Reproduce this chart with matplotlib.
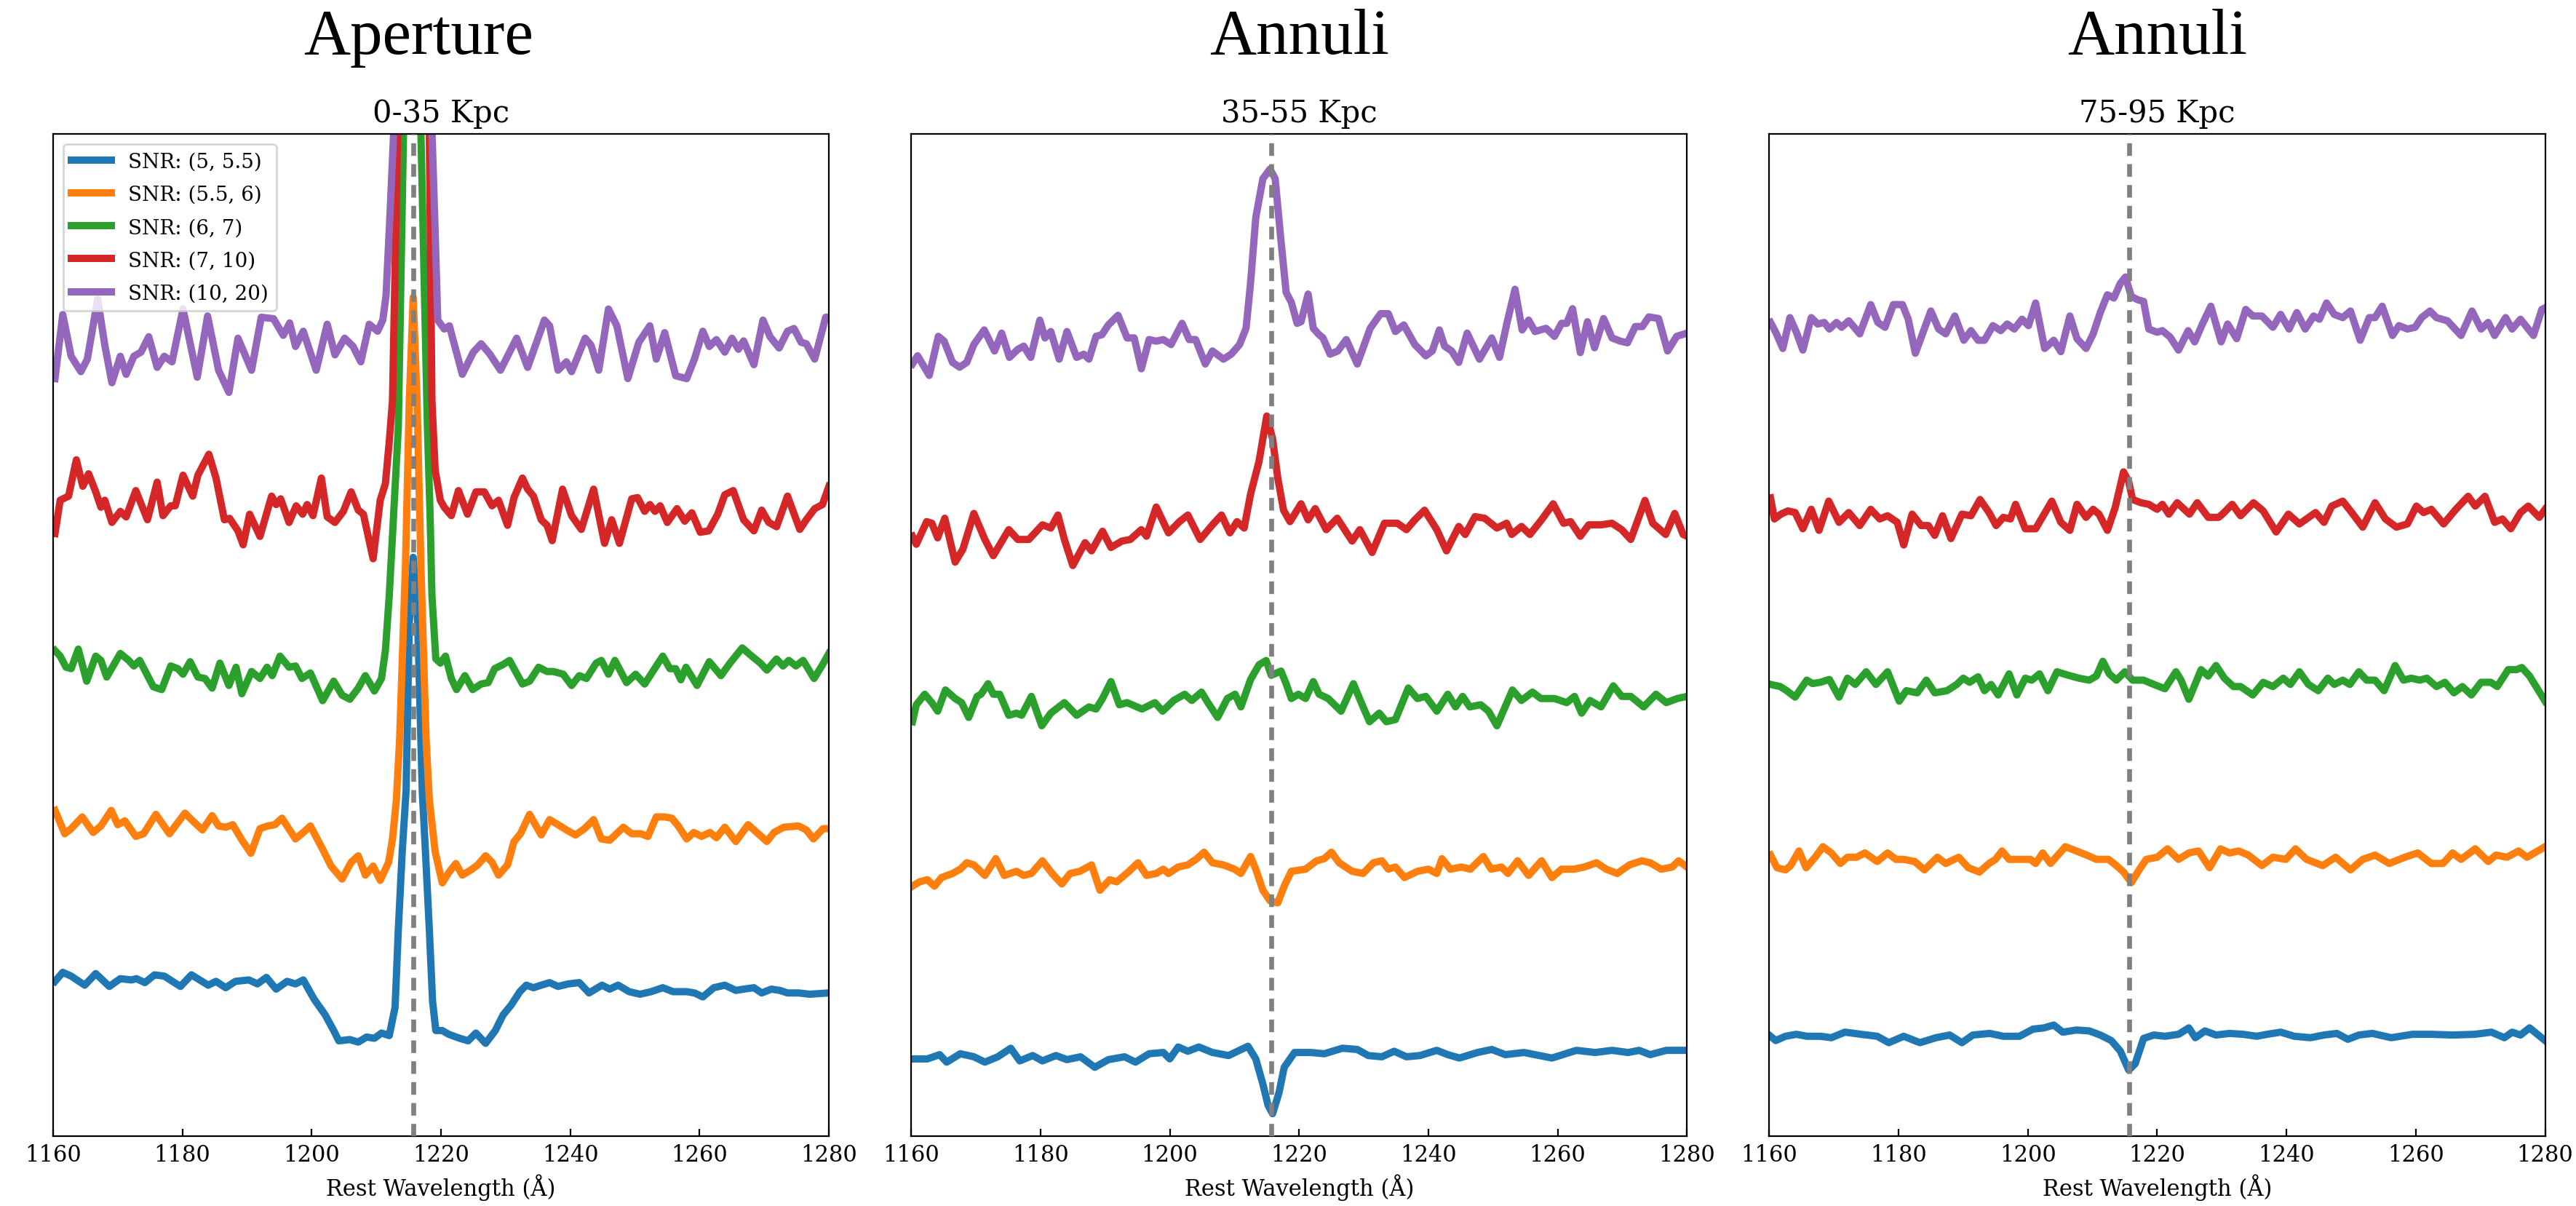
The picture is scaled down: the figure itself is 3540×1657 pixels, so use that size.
import numpy as np
import matplotlib.pyplot as plt

plt.rcParams['font.family'] = ['DejaVu Serif']

LYA = 1215.67  # Lyman-alpha rest wavelength

snr_labels = ["SNR: (5, 5.5)", "SNR: (5.5, 6)", "SNR: (6, 7)", "SNR: (7, 10)", "SNR: (10, 20)"]
panel_titles = ["0-35 Kpc", "35-55 Kpc", "75-95 Kpc"]
column_headers = ["Aperture", "Annuli", "Annuli"]
xticks = [1160, 1180, 1200, 1220, 1240, 1260, 1280]

# stacked spectra as (rest wavelength, normalised flux) pairs
# ---- aperture, 0-35 kpc ----
aper_5_55 = [(1160.3, 0.976), (1161.5, 1.033), (1162.8, 1.009), (1164.9, 0.952), (1166.6, 1.025), (1168.7, 0.944),
             (1170.4, 0.993), (1172.1, 0.985), (1172.9, 0.993), (1174.2, 0.968), (1175.7, 1.017), (1177.2, 1.009),
             (1179.7, 0.944), (1181.4, 1.017), (1184.0, 0.952), (1185.2, 0.976), (1186.7, 0.936), (1188.2, 0.976),
             (1190.3, 0.985), (1191.6, 0.960), (1193.0, 1.001), (1194.5, 0.927), (1196.2, 0.976), (1197.5, 0.960),
             (1198.7, 0.985), (1200.4, 0.862), (1202.1, 0.764), (1203.4, 0.666), (1204.2, 0.601), (1205.9, 0.609),
             (1207.2, 0.593), (1208.5, 0.625), (1209.7, 0.617), (1210.8, 0.650), (1212.0, 0.634), (1212.9, 0.813),
             (1213.4, 1.303), (1214.0, 1.79), (1214.6, 2.18), (1215.1, 3.24), (1215.7, 3.65), (1216.4, 3.24),
             (1217.1, 2.18), (1217.6, 1.79), (1218.2, 1.30), (1218.7, 0.85), (1219.2, 0.666), (1220.2, 0.666),
             (1221.2, 0.642), (1222.9, 0.617), (1224.2, 0.601), (1225.4, 0.650), (1226.9, 0.585), (1228.4, 0.666),
             (1229.6, 0.764), (1230.9, 0.829), (1232.2, 0.911), (1233.2, 0.952), (1234.3, 0.936), (1235.5, 0.952),
             (1236.8, 0.968), (1238.1, 0.944), (1239.7, 0.960), (1241.4, 0.968), (1242.9, 0.903), (1244.9, 0.952),
             (1246.1, 0.927), (1247.4, 0.952), (1249.1, 0.911), (1250.8, 0.895), (1252.5, 0.911), (1254.3, 0.936),
             (1255.9, 0.911), (1258.0, 0.911), (1259.2, 0.903), (1260.5, 0.878), (1262.2, 0.936), (1263.9, 0.952),
             (1265.6, 0.919), (1266.8, 0.927), (1268.4, 0.936), (1269.6, 0.903), (1271.1, 0.927), (1272.4, 0.919),
             (1273.6, 0.903), (1275.3, 0.903), (1277.0, 0.895), (1280.0, 0.903)]
aper_55_6 = [(1160.3, 1.054), (1161.8, 0.907), (1162.8, 0.939), (1164.5, 1.013), (1166.2, 0.915), (1167.4, 0.956),
             (1169.0, 1.054), (1170.0, 0.964), (1171.1, 0.988), (1172.8, 0.890), (1174.0, 0.907), (1175.9, 1.029),
             (1178.0, 0.907), (1180.4, 1.037), (1181.6, 0.988), (1183.1, 0.931), (1184.6, 1.021), (1185.6, 0.956),
             (1186.7, 0.948), (1187.8, 0.964), (1189.1, 0.874), (1190.6, 0.784), (1192.0, 0.939), (1193.2, 0.956),
             (1194.3, 0.964), (1195.4, 1.005), (1197.5, 0.874), (1198.7, 0.915), (1199.8, 0.956), (1201.7, 0.809),
             (1203.0, 0.703), (1204.7, 0.621), (1206.1, 0.727), (1207.2, 0.768), (1208.3, 0.646), (1209.5, 0.703),
             (1210.6, 0.613), (1211.9, 0.727), (1212.5, 0.874), (1213.1, 1.12), (1213.6, 1.5), (1214.5, 2.59),
             (1215.1, 3.64), (1215.7, 4.29), (1216.3, 3.64), (1216.9, 2.59), (1217.7, 1.5), (1218.2, 1.12),
             (1219.1, 0.793), (1220.2, 0.597), (1221.2, 0.662), (1222.3, 0.719), (1223.3, 0.646), (1224.6, 0.678),
             (1225.7, 0.711), (1226.9, 0.768), (1227.9, 0.727), (1228.9, 0.646), (1230.3, 0.711), (1231.3, 0.858),
             (1232.3, 0.907), (1233.7, 1.029), (1235.5, 0.899), (1236.8, 0.996), (1238.1, 0.964), (1239.4, 0.931),
             (1240.8, 0.899), (1242.2, 0.939), (1243.6, 0.996), (1244.8, 0.874), (1246.1, 0.866), (1248.2, 0.948),
             (1249.5, 0.907), (1250.9, 0.907), (1252.0, 0.890), (1253.3, 1.013), (1254.6, 1.013), (1255.7, 1.005),
             (1256.7, 0.956), (1258.0, 0.874), (1259.1, 0.915), (1260.3, 0.890), (1261.6, 0.915), (1262.6, 0.882),
             (1263.9, 0.948), (1265.6, 0.858), (1267.5, 0.964), (1270.4, 0.858), (1271.5, 0.915), (1273.0, 0.948),
             (1275.3, 0.956), (1276.5, 0.931), (1277.6, 0.874), (1279.1, 0.939), (1280.0, 0.939)]
aper_6_7 = [(1160.3, 1.062), (1161.1, 1.027), (1162.0, 0.957), (1162.8, 0.948), (1163.9, 1.071), (1165.2, 0.869),
            (1166.6, 1.027), (1167.4, 1.000), (1168.3, 0.895), (1170.4, 1.044), (1171.7, 1.000), (1172.5, 0.965),
            (1173.4, 1.000), (1175.5, 0.834), (1176.8, 0.816), (1178.2, 0.965), (1179.3, 0.948), (1180.1, 0.913),
            (1181.2, 0.992), (1182.4, 0.895), (1183.5, 0.886), (1184.6, 0.825), (1185.8, 0.983), (1187.2, 0.842),
            (1188.3, 0.957), (1189.2, 0.790), (1190.7, 0.930), (1192.0, 0.886), (1193.1, 0.957), (1193.9, 0.904),
            (1195.1, 1.027), (1196.5, 0.957), (1197.5, 0.965), (1198.5, 0.886), (1199.8, 0.921), (1201.7, 0.746),
            (1203.4, 0.869), (1204.7, 0.781), (1205.9, 0.755), (1207.2, 0.825), (1208.3, 0.904), (1209.7, 0.807),
            (1210.8, 0.886), (1211.4, 1.062), (1212.0, 1.41), (1212.7, 1.94), (1213.4, 2.47), (1214.2, 4.32),
            (1215.7, 6.5), (1216.9, 4.32), (1217.9, 2.47), (1218.3, 1.94), (1218.6, 1.41), (1219.2, 1.010),
            (1219.9, 0.983), (1220.7, 1.027), (1221.6, 0.886), (1222.4, 0.816), (1223.7, 0.904), (1224.9, 0.816),
            (1226.2, 0.851), (1227.3, 0.860), (1228.3, 0.948), (1229.6, 0.974), (1230.6, 1.000), (1232.6, 0.851),
            (1233.7, 0.869), (1235.1, 0.957), (1236.4, 0.930), (1237.4, 0.930), (1238.9, 0.913), (1240.2, 0.842),
            (1241.4, 0.904), (1242.5, 0.886), (1244.0, 0.983), (1244.8, 1.000), (1245.9, 0.913), (1246.9, 1.000),
            (1248.7, 0.860), (1250.1, 0.913), (1251.5, 0.851), (1254.3, 1.027), (1255.4, 0.948), (1256.3, 0.948),
            (1257.1, 0.878), (1257.9, 0.957), (1259.6, 0.842), (1261.5, 0.992), (1263.3, 0.904), (1264.7, 0.983),
            (1266.6, 1.079), (1267.8, 1.036), (1269.4, 0.983), (1270.4, 0.939), (1271.9, 1.009), (1272.9, 0.965),
            (1273.8, 1.000), (1274.9, 0.965), (1276.0, 1.000), (1277.7, 0.886), (1278.9, 0.965), (1280.0, 1.044)]
aper_7_10 = [(1160.3, 0.800), (1161.1, 1.010), (1162.4, 1.036), (1163.6, 1.265), (1164.6, 1.098), (1165.5, 1.177),
             (1166.6, 1.063), (1167.4, 0.966), (1168.0, 1.010), (1169.1, 0.870), (1170.4, 0.940), (1171.3, 0.905),
             (1172.8, 1.071), (1174.6, 0.887), (1176.1, 1.124), (1177.0, 0.913), (1178.2, 0.975), (1178.9, 0.975),
             (1180.1, 1.168), (1181.6, 1.036), (1182.4, 1.168), (1184.1, 1.300), (1185.2, 1.150), (1186.5, 0.887),
             (1187.3, 0.896), (1188.6, 0.817), (1189.4, 0.729), (1190.4, 0.922), (1192.0, 0.782), (1193.8, 1.036),
             (1194.5, 0.983), (1195.2, 1.019), (1196.5, 0.870), (1197.6, 0.975), (1198.6, 0.922), (1199.3, 0.983),
             (1200.2, 0.913), (1201.5, 1.150), (1202.4, 0.905), (1203.6, 0.870), (1204.9, 0.940), (1206.1, 1.063),
             (1207.2, 0.948), (1208.0, 0.922), (1209.5, 0.641), (1210.6, 1.010), (1211.4, 1.115), (1212.0, 1.38),
             (1212.5, 1.64), (1213.3, 3.32), (1214.0, 4.6), (1215.7, 5.5), (1217.4, 4.6), (1218.2, 3.32),
             (1218.6, 1.64), (1219.1, 1.20), (1219.9, 1.010), (1220.5, 0.966), (1221.6, 0.913), (1222.7, 1.071),
             (1224.1, 0.922), (1225.4, 1.063), (1226.7, 1.063), (1227.9, 0.975), (1228.9, 1.010), (1230.3, 0.852),
             (1231.3, 1.027), (1232.6, 1.150), (1233.4, 1.080), (1234.3, 1.036), (1235.5, 0.887), (1236.4, 0.852),
             (1237.2, 0.755), (1238.8, 1.080), (1240.2, 0.913), (1241.7, 0.826), (1243.6, 1.080), (1245.3, 0.738),
             (1246.4, 0.887), (1247.6, 0.738), (1249.5, 1.019), (1250.4, 1.027), (1251.5, 0.940), (1252.3, 0.983),
             (1253.1, 0.940), (1253.9, 0.975), (1255.0, 0.870), (1256.5, 0.957), (1257.7, 0.878), (1258.8, 0.931),
             (1260.1, 0.808), (1261.4, 0.817), (1262.8, 0.922), (1263.9, 1.045), (1265.2, 1.071), (1266.8, 0.887),
             (1268.4, 0.817), (1269.6, 0.948), (1270.7, 0.870), (1271.9, 0.843), (1273.6, 1.036), (1275.5, 0.826),
             (1276.5, 0.887), (1277.8, 0.957), (1279.0, 0.983), (1280.0, 1.098)]
aper_10_20 = [(1160.3, 0.777), (1161.5, 1.181), (1162.8, 0.918), (1164.3, 0.821), (1165.3, 0.900), (1166.9, 1.278),
              (1168.0, 0.988), (1169.1, 0.751), (1170.4, 0.918), (1171.3, 0.804), (1172.5, 0.918), (1173.6, 0.944),
              (1174.8, 1.041), (1176.1, 0.848), (1177.2, 0.918), (1178.4, 0.883), (1180.1, 1.216), (1182.3, 0.786),
              (1183.9, 1.172), (1185.6, 0.830), (1187.2, 0.690), (1188.6, 1.032), (1190.7, 0.830), (1192.2, 1.164),
              (1194.1, 1.155), (1195.6, 1.050), (1196.6, 1.128), (1197.5, 0.980), (1198.7, 1.076), (1200.7, 0.830),
              (1202.4, 1.120), (1203.6, 0.927), (1205.1, 1.032), (1206.4, 0.980), (1207.6, 0.883), (1208.9, 1.120),
              (1210.2, 1.076), (1211.0, 1.146), (1211.5, 1.30), (1212.1, 1.80), (1212.7, 2.35), (1213.6, 3.8),
              (1215.7, 5.0), (1217.8, 3.8), (1218.6, 2.35), (1219.1, 1.70), (1219.5, 1.146), (1220.5, 1.090),
              (1221.3, 1.110), (1223.3, 0.804), (1225.0, 0.944), (1226.2, 0.997), (1227.5, 0.935), (1229.2, 0.830),
              (1231.7, 1.032), (1233.4, 0.848), (1236.0, 1.146), (1236.8, 1.110), (1238.1, 0.830), (1239.4, 0.883),
              (1240.2, 0.821), (1242.3, 1.032), (1243.2, 0.988), (1244.4, 0.830), (1245.9, 1.216), (1247.2, 1.110),
              (1248.9, 0.777), (1250.6, 1.006), (1252.3, 1.110), (1253.3, 0.900), (1254.6, 1.067), (1256.3, 0.795),
              (1258.0, 0.777), (1259.2, 0.900), (1260.5, 1.076), (1261.5, 0.980), (1262.6, 1.023), (1263.9, 0.944),
              (1265.0, 1.032), (1266.0, 0.962), (1266.8, 1.015), (1268.4, 0.865), (1269.8, 1.146), (1270.9, 1.041),
              (1272.3, 0.970), (1273.6, 1.076), (1274.6, 1.093), (1275.7, 1.006), (1276.5, 0.997), (1277.8, 0.900),
              (1279.5, 1.164), (1280.0, 1.164)]

# ---- annulus, 35-55 kpc ----
ann35_5_55 = [(1160.2, 0.953), (1162.5, 0.953), (1164.4, 0.977), (1165.5, 0.935), (1167.6, 0.982), (1169.7, 0.965),
              (1171.4, 0.935), (1173.4, 0.965), (1175.4, 1.013), (1176.8, 0.942), (1178.8, 0.972), (1180.3, 0.942),
              (1182.4, 0.972), (1184.1, 0.949), (1186.2, 0.965), (1188.4, 0.906), (1190.5, 0.949), (1193.0, 0.965),
              (1194.7, 0.935), (1196.8, 0.982), (1199.0, 0.989), (1200.0, 0.953), (1201.3, 1.020), (1202.8, 0.996),
              (1204.5, 1.020), (1206.6, 0.989), (1209.1, 0.972), (1212.1, 1.024), (1213.3, 0.953), (1214.4, 0.812),
              (1215.2, 0.693), (1215.9, 0.646), (1216.9, 0.764), (1217.7, 0.906), (1219.3, 0.989), (1221.8, 0.989),
              (1223.9, 0.982), (1226.7, 1.013), (1229.0, 1.006), (1230.7, 0.972), (1232.8, 0.965), (1234.7, 0.996),
              (1236.6, 0.965), (1238.7, 0.972), (1241.3, 1.001), (1243.0, 0.977), (1244.8, 0.958), (1247.6, 0.989),
              (1249.8, 1.006), (1251.9, 0.977), (1254.8, 0.989), (1259.1, 0.958), (1262.9, 1.001), (1265.8, 0.989),
              (1268.4, 1.001), (1270.9, 0.989), (1272.6, 1.001), (1274.3, 0.977), (1276.8, 1.001), (1280.0, 1.001)]
ann35_55_6 = [(1160.2, 0.922), (1161.3, 0.946), (1162.5, 0.958), (1163.6, 0.922), (1164.7, 0.970), (1166.4, 0.993),
              (1167.6, 1.017), (1168.6, 1.053), (1169.7, 1.041), (1171.4, 0.982), (1173.1, 1.076), (1174.4, 0.982),
              (1176.3, 1.005), (1177.4, 0.982), (1178.6, 0.993), (1180.3, 1.064), (1181.8, 0.993), (1183.3, 0.934),
              (1184.6, 0.993), (1186.1, 1.005), (1187.9, 1.041), (1189.2, 0.899), (1190.7, 0.958), (1191.8, 0.946),
              (1193.7, 1.005), (1195.1, 1.053), (1196.4, 0.982), (1197.9, 0.993), (1199.0, 1.017), (1199.8, 0.993),
              (1201.3, 1.029), (1202.8, 1.041), (1204.2, 1.076), (1205.3, 1.112), (1206.6, 1.053), (1208.3, 1.041),
              (1210.0, 1.017), (1211.0, 0.993), (1212.5, 1.088), (1213.3, 1.017), (1214.4, 0.899), (1215.5, 0.840),
              (1216.7, 0.828), (1217.7, 0.922), (1218.8, 1.005), (1221.0, 1.017), (1222.7, 1.064), (1223.9, 1.076),
              (1225.0, 1.112), (1226.2, 1.053), (1228.2, 1.005), (1229.9, 0.993), (1231.5, 1.053), (1232.8, 1.064),
              (1233.8, 1.017), (1234.9, 1.029), (1236.3, 0.970), (1238.3, 1.005), (1240.0, 1.017), (1241.3, 0.993),
              (1242.1, 1.076), (1243.4, 1.017), (1245.1, 1.029), (1246.5, 1.017), (1248.5, 1.088), (1249.7, 1.017),
              (1251.3, 1.029), (1252.3, 0.993), (1253.8, 1.064), (1255.5, 0.982), (1257.5, 1.064), (1259.1, 0.970),
              (1260.6, 1.017), (1262.5, 1.017), (1264.1, 1.029), (1266.0, 1.053), (1267.5, 1.017), (1269.2, 0.993),
              (1271.1, 1.041), (1273.0, 1.064), (1274.3, 1.053), (1276.0, 1.017), (1277.7, 1.029), (1278.7, 1.064),
              (1280.0, 1.029)]
ann35_6_7 = [(1160.2, 0.844), (1160.8, 0.939), (1162.1, 0.998), (1163.2, 0.951), (1164.1, 0.903), (1165.3, 1.022),
             (1166.8, 0.974), (1167.8, 0.951), (1168.9, 0.868), (1170.2, 0.986), (1170.8, 0.998), (1171.9, 1.057),
             (1172.7, 0.998), (1173.7, 0.998), (1175.1, 0.880), (1176.3, 0.892), (1177.1, 0.880), (1178.6, 0.986),
             (1180.2, 0.821), (1181.6, 0.892), (1183.7, 0.951), (1185.6, 0.880), (1187.5, 0.927), (1188.6, 0.915),
             (1189.6, 0.974), (1190.9, 1.069), (1192.2, 0.939), (1193.4, 0.951), (1195.7, 0.915), (1197.7, 0.951),
             (1198.9, 0.903), (1200.6, 0.963), (1202.3, 0.998), (1203.4, 0.963), (1204.9, 1.010), (1205.9, 0.951),
             (1207.4, 0.868), (1208.9, 0.974), (1210.1, 0.998), (1211.0, 0.927), (1212.5, 1.081), (1213.8, 1.163),
             (1214.9, 1.187), (1215.7, 1.104), (1217.2, 1.128), (1218.0, 1.057), (1218.8, 0.974), (1219.9, 0.998),
             (1221.0, 0.974), (1222.2, 1.069), (1223.1, 0.998), (1224.5, 0.974), (1226.5, 0.903), (1228.4, 1.057),
             (1229.9, 0.927), (1230.9, 0.844), (1232.4, 0.892), (1233.5, 0.844), (1234.9, 0.856), (1236.9, 1.033),
             (1238.3, 0.974), (1239.6, 0.986), (1241.3, 0.903), (1243.0, 0.998), (1244.2, 0.927), (1245.3, 0.986),
             (1246.4, 0.927), (1248.1, 0.939), (1249.3, 0.903), (1250.6, 0.821), (1253.0, 1.022), (1254.4, 0.963),
             (1256.1, 1.010), (1257.4, 0.974), (1259.5, 0.974), (1261.4, 0.951), (1262.6, 0.986), (1263.7, 0.892),
             (1265.0, 0.963), (1266.7, 0.927), (1268.6, 1.045), (1269.9, 0.986), (1271.3, 0.986), (1273.3, 0.927),
             (1275.2, 0.998), (1276.8, 0.951), (1278.5, 0.974), (1280.0, 0.986)]
ann35_7_10 = [(1160.2, 0.884), (1160.8, 0.839), (1162.4, 0.966), (1163.2, 0.957), (1164.1, 0.875), (1165.2, 0.985),
              (1166.8, 0.739), (1168.0, 0.811), (1169.7, 1.012), (1171.4, 0.866), (1172.7, 0.775), (1175.1, 0.921),
              (1176.5, 0.866), (1178.2, 0.866), (1180.3, 0.948), (1181.6, 0.930), (1182.7, 1.003), (1183.7, 0.866),
              (1185.0, 0.720), (1186.9, 0.848), (1187.9, 0.802), (1189.6, 0.912), (1190.9, 0.821), (1192.6, 0.857),
              (1193.9, 0.866), (1195.6, 0.921), (1196.4, 0.884), (1197.9, 1.048), (1199.8, 0.903), (1201.5, 0.966),
              (1202.8, 1.003), (1204.7, 0.866), (1206.6, 0.948), (1208.0, 1.003), (1209.3, 0.903), (1210.4, 0.966),
              (1211.5, 0.930), (1212.5, 1.121), (1213.8, 1.303), (1215.0, 1.558), (1215.9, 1.431), (1216.7, 1.212),
              (1217.6, 1.030), (1218.6, 0.966), (1220.3, 1.066), (1221.4, 0.976), (1222.5, 1.039), (1224.2, 0.921),
              (1225.9, 0.985), (1228.2, 0.857), (1229.4, 0.921), (1231.3, 0.793), (1233.2, 0.957), (1235.2, 0.957),
              (1236.6, 0.921), (1237.9, 0.976), (1239.4, 1.030), (1241.3, 0.921), (1242.8, 0.802), (1244.7, 0.939),
              (1245.7, 0.894), (1247.2, 0.994), (1248.7, 0.985), (1250.6, 0.930), (1252.1, 0.957), (1252.9, 0.894),
              (1254.4, 0.939), (1255.7, 0.894), (1257.5, 0.976), (1259.3, 1.066), (1260.9, 0.957), (1262.0, 0.966),
              (1263.5, 0.884), (1264.8, 0.948), (1266.7, 0.948), (1268.4, 0.957), (1269.9, 0.921), (1271.3, 0.866),
              (1273.5, 1.085), (1274.7, 0.957), (1276.7, 0.894), (1278.1, 1.012), (1279.4, 0.894), (1280.0, 0.884)]
ann35_10_20 = [(1160.2, 0.850), (1161.0, 0.896), (1161.9, 0.841), (1162.8, 0.786), (1164.2, 1.005), (1165.1, 0.978),
               (1166.4, 0.859), (1167.5, 0.832), (1168.6, 0.859), (1169.7, 0.959), (1171.3, 1.041), (1172.9, 0.923),
               (1174.0, 1.023), (1175.2, 0.887), (1176.5, 0.932), (1177.4, 0.950), (1178.5, 0.887), (1179.9, 1.096),
               (1180.7, 0.996), (1181.6, 1.032), (1182.9, 0.877), (1184.1, 1.032), (1185.6, 0.887), (1186.7, 0.905),
               (1187.5, 0.877), (1188.6, 1.005), (1189.5, 1.014), (1190.5, 1.069), (1192.0, 1.123), (1193.4, 0.996),
               (1194.5, 0.996), (1195.6, 0.823), (1196.8, 0.987), (1197.9, 0.978), (1199.0, 0.987), (1200.2, 0.959),
               (1201.9, 1.078), (1203.0, 0.987), (1204.0, 0.987), (1205.5, 0.850), (1206.6, 0.923), (1208.3, 0.877),
               (1209.5, 0.905), (1210.8, 0.959), (1211.8, 1.050), (1212.5, 1.306), (1213.3, 1.670), (1214.4, 1.889),
               (1215.5, 1.943), (1216.3, 1.889), (1217.2, 1.542), (1218.0, 1.251), (1218.8, 1.196), (1219.7, 1.078),
               (1220.3, 1.087), (1221.4, 1.242), (1222.2, 1.050), (1223.1, 1.014), (1223.7, 0.996), (1224.8, 0.905),
               (1226.0, 0.923), (1227.3, 0.987), (1229.0, 0.850), (1231.0, 1.050), (1232.6, 1.132), (1233.8, 1.132),
               (1234.9, 1.032), (1236.2, 1.069), (1237.9, 0.959), (1239.6, 0.896), (1240.6, 0.923), (1241.7, 1.041),
               (1242.5, 0.950), (1243.6, 0.923), (1244.7, 0.859), (1246.0, 1.023), (1247.9, 0.877), (1249.8, 0.996),
               (1251.0, 0.887), (1252.2, 1.087), (1253.4, 1.269), (1254.5, 1.041), (1255.5, 1.096), (1256.5, 1.032),
               (1258.2, 1.050), (1259.5, 1.005), (1260.6, 1.078), (1261.4, 1.078), (1262.3, 1.160), (1263.5, 0.914),
               (1264.6, 1.087), (1265.7, 0.941), (1267.1, 1.105), (1268.4, 0.996), (1269.7, 0.978), (1270.8, 0.969),
               (1272.0, 1.060), (1273.1, 1.060), (1274.1, 1.114), (1275.6, 1.105), (1277.0, 0.923), (1278.4, 1.005),
               (1280.0, 1.023)]

# ---- annulus, 75-95 kpc ----
ann75_5_55 = [(1160.2, 1.010), (1161.0, 0.986), (1162.5, 1.010), (1164.2, 1.021), (1165.8, 1.010), (1167.9, 1.010),
              (1169.6, 1.002), (1171.7, 1.033), (1174.2, 1.021), (1176.7, 1.010), (1178.5, 0.974), (1180.8, 1.010),
              (1183.3, 0.974), (1185.8, 1.002), (1187.9, 1.017), (1189.8, 0.974), (1191.5, 1.017), (1194.1, 1.026),
              (1196.2, 1.010), (1198.7, 1.010), (1200.8, 1.050), (1202.5, 1.057), (1204.0, 1.073), (1205.4, 1.033),
              (1207.5, 1.045), (1209.5, 1.040), (1211.2, 1.017), (1212.9, 0.986), (1214.3, 0.927), (1215.6, 0.820),
              (1216.6, 0.856), (1217.9, 0.998), (1219.5, 1.017), (1221.2, 1.010), (1223.3, 1.021), (1224.9, 1.057),
              (1225.9, 1.002), (1227.4, 1.040), (1229.1, 1.017), (1231.2, 1.026), (1233.3, 1.021), (1235.4, 1.010),
              (1237.0, 1.021), (1239.1, 1.033), (1241.2, 1.010), (1243.7, 1.002), (1245.8, 1.017), (1247.8, 1.026),
              (1249.5, 0.993), (1251.2, 1.017), (1253.3, 1.026), (1256.2, 1.002), (1259.5, 1.021), (1262.4, 1.021),
              (1265.7, 1.017), (1269.1, 1.021), (1271.7, 1.033), (1273.7, 1.002), (1274.9, 1.033), (1276.2, 1.017),
              (1277.6, 1.057), (1280.0, 0.986)]
ann75_55_6 = [(1160.2, 1.026), (1161.2, 0.955), (1162.5, 0.943), (1163.3, 0.967), (1164.6, 1.049), (1165.7, 0.955),
              (1167.1, 1.014), (1168.3, 1.073), (1169.6, 1.038), (1171.0, 0.979), (1172.1, 1.014), (1173.5, 1.014),
              (1174.8, 1.038), (1176.7, 0.990), (1178.3, 1.038), (1179.6, 1.002), (1180.8, 1.002), (1182.5, 0.990),
              (1184.0, 0.943), (1186.0, 1.014), (1187.3, 0.979), (1189.3, 1.014), (1190.8, 0.955), (1192.5, 0.931),
              (1194.0, 0.979), (1195.0, 1.002), (1196.0, 1.049), (1197.1, 1.002), (1198.7, 1.002), (1200.4, 1.002),
              (1201.2, 0.979), (1202.3, 1.038), (1203.5, 0.979), (1205.8, 1.073), (1207.5, 1.049), (1209.1, 1.026),
              (1210.6, 1.002), (1212.5, 1.002), (1213.7, 0.967), (1214.8, 0.931), (1216.0, 0.872), (1217.0, 0.931),
              (1218.3, 1.002), (1220.0, 1.014), (1221.6, 1.061), (1223.3, 1.002), (1224.9, 1.038), (1226.4, 1.049),
              (1228.1, 0.955), (1229.8, 1.061), (1231.2, 1.038), (1232.6, 1.049), (1234.1, 1.026), (1236.2, 0.967),
              (1237.9, 1.014), (1239.9, 1.002), (1241.4, 1.061), (1243.1, 1.002), (1245.6, 0.967), (1247.6, 1.014),
              (1249.9, 0.943), (1251.8, 1.002), (1253.7, 1.026), (1255.9, 0.979), (1258.3, 1.014), (1260.3, 1.038),
              (1262.4, 0.979), (1264.2, 0.979), (1265.7, 1.038), (1267.0, 1.002), (1269.2, 1.061), (1271.2, 0.990),
              (1272.4, 1.026), (1274.1, 1.014), (1275.9, 1.049), (1277.2, 1.014), (1280.0, 1.073)]
ann75_6_7 = [(1160.2, 0.983), (1161.7, 0.971), (1162.7, 0.948), (1164.0, 0.912), (1165.8, 1.007), (1166.7, 0.988),
             (1167.9, 0.995), (1169.3, 1.011), (1170.8, 0.912), (1172.1, 1.018), (1173.3, 0.983), (1175.0, 1.054),
             (1176.5, 0.983), (1178.3, 1.054), (1180.1, 0.889), (1181.2, 0.948), (1182.9, 0.936), (1184.3, 1.007),
             (1185.6, 0.936), (1187.5, 0.948), (1189.0, 0.983), (1190.0, 1.018), (1191.0, 0.995), (1192.3, 1.026),
             (1193.3, 0.948), (1194.3, 0.983), (1195.4, 0.924), (1197.1, 1.042), (1198.3, 0.924), (1199.6, 1.018),
             (1200.6, 1.007), (1201.8, 1.042), (1203.1, 0.948), (1204.5, 1.054), (1206.2, 1.035), (1207.9, 1.018),
             (1209.5, 1.007), (1210.6, 1.030), (1211.6, 1.113), (1212.6, 1.042), (1213.7, 1.007), (1215.0, 1.054),
             (1216.2, 1.007), (1217.9, 1.007), (1219.5, 0.983), (1221.2, 0.959), (1222.9, 1.054), (1223.7, 1.007),
             (1224.9, 0.900), (1226.8, 1.066), (1227.9, 1.030), (1229.1, 1.089), (1230.4, 1.018), (1231.8, 0.971),
             (1232.9, 0.971), (1234.8, 0.924), (1236.4, 0.995), (1237.9, 0.971), (1239.5, 1.018), (1240.6, 0.983),
             (1242.0, 1.054), (1243.4, 0.983), (1244.9, 0.948), (1246.4, 1.018), (1247.4, 0.983), (1248.7, 1.007),
             (1249.8, 0.983), (1251.2, 1.054), (1252.4, 1.007), (1253.7, 1.007), (1255.1, 0.948), (1256.8, 1.089),
             (1258.1, 1.007), (1259.3, 1.018), (1260.6, 1.007), (1261.7, 1.018), (1263.2, 0.971), (1264.5, 0.995),
             (1265.9, 0.936), (1267.2, 0.971), (1268.6, 0.924), (1270.1, 0.995), (1271.6, 0.995), (1272.6, 0.971),
             (1274.3, 1.066), (1275.6, 1.066), (1276.4, 1.078), (1277.6, 1.030), (1280.0, 0.889)]
ann75_7_10 = [(1160.2, 1.029), (1160.8, 0.911), (1161.8, 0.938), (1162.9, 0.956), (1164.0, 0.947), (1165.2, 0.856),
              (1166.5, 0.965), (1167.7, 0.847), (1169.2, 1.011), (1170.8, 0.892), (1172.3, 0.947), (1174.0, 0.874),
              (1175.7, 0.965), (1177.1, 0.911), (1178.3, 0.929), (1179.8, 0.892), (1180.8, 0.765), (1182.1, 0.938),
              (1183.5, 0.874), (1184.6, 0.874), (1185.6, 0.819), (1186.8, 0.929), (1188.1, 0.801), (1189.8, 0.938),
              (1191.2, 0.929), (1192.6, 1.020), (1194.0, 0.947), (1195.1, 0.874), (1196.2, 0.920), (1197.3, 0.911),
              (1198.1, 0.993), (1199.6, 0.856), (1201.2, 0.856), (1203.7, 1.011), (1205.1, 0.892), (1206.5, 0.847),
              (1207.6, 0.993), (1209.0, 0.920), (1210.1, 0.965), (1211.0, 0.938), (1212.3, 0.847), (1213.5, 0.974),
              (1214.8, 1.175), (1215.6, 1.120), (1216.2, 1.020), (1217.5, 1.002), (1218.7, 0.993), (1220.0, 0.965),
              (1220.8, 0.993), (1221.8, 0.938), (1223.1, 1.002), (1225.0, 0.938), (1226.2, 1.002), (1227.9, 0.920),
              (1229.5, 0.920), (1230.1, 0.938), (1231.6, 0.993), (1232.9, 0.929), (1234.9, 1.002), (1236.4, 0.956),
              (1238.4, 0.838), (1240.3, 0.938), (1242.0, 0.883), (1244.5, 0.947), (1245.8, 0.892), (1247.0, 0.983),
              (1248.7, 1.011), (1249.9, 0.956), (1251.8, 0.865), (1253.7, 1.002), (1255.3, 0.911), (1257.0, 0.865),
              (1258.7, 0.883), (1260.1, 0.983), (1261.2, 0.947), (1262.4, 0.965), (1264.3, 0.883), (1266.2, 0.965),
              (1268.1, 1.038), (1269.2, 0.983), (1270.7, 1.038), (1272.2, 0.892), (1273.4, 0.911), (1274.7, 0.856),
              (1276.2, 0.947), (1277.4, 0.983), (1279.1, 0.920), (1280.0, 0.965)]
ann75_10_20 = [(1160.2, 1.013), (1161.0, 0.958), (1162.1, 0.867), (1163.2, 1.040), (1164.2, 0.958), (1165.2, 0.858),
               (1166.5, 1.040), (1167.5, 1.004), (1168.5, 1.013), (1169.3, 0.976), (1170.4, 1.013), (1171.2, 0.986),
               (1172.3, 1.022), (1174.0, 0.949), (1175.7, 1.113), (1176.8, 1.013), (1177.9, 0.986), (1179.2, 1.113),
               (1180.6, 1.113), (1181.5, 1.031), (1182.6, 0.840), (1185.0, 1.077), (1186.2, 0.976), (1187.3, 0.949),
               (1188.7, 1.049), (1190.1, 0.913), (1191.2, 0.967), (1192.3, 0.913), (1193.3, 0.913), (1194.6, 0.995),
               (1195.8, 0.967), (1196.8, 1.004), (1197.9, 0.976), (1199.1, 1.031), (1200.1, 0.995), (1201.2, 1.122),
               (1202.6, 0.867), (1204.0, 0.913), (1205.1, 0.849), (1206.5, 1.049), (1207.6, 0.922), (1209.0, 0.867),
               (1210.1, 0.949), (1211.2, 1.068), (1212.3, 1.168), (1213.3, 1.150), (1214.3, 1.232), (1215.1, 1.268),
               (1216.0, 1.159), (1217.0, 1.140), (1217.9, 1.131), (1218.7, 0.976), (1220.0, 0.958), (1220.8, 0.967),
               (1222.0, 0.931), (1223.3, 0.858), (1224.8, 0.967), (1225.8, 0.904), (1227.0, 1.004), (1228.3, 1.104),
               (1229.9, 0.904), (1230.9, 1.004), (1232.3, 0.922), (1233.7, 1.086), (1234.8, 1.049), (1236.2, 1.049),
               (1237.9, 0.986), (1239.1, 1.058), (1240.4, 0.976), (1241.6, 1.068), (1242.9, 0.976), (1244.2, 1.049),
               (1245.1, 1.031), (1246.2, 1.122), (1247.4, 1.058), (1248.7, 1.040), (1249.9, 1.077), (1251.4, 0.913),
               (1252.8, 1.040), (1253.7, 1.040), (1254.8, 1.104), (1256.4, 0.940), (1257.4, 0.995), (1258.7, 0.976),
               (1259.9, 0.986), (1260.9, 1.040), (1262.2, 1.077), (1263.2, 1.040), (1264.9, 1.022), (1267.0, 0.940),
               (1268.7, 1.077), (1270.1, 0.976), (1271.2, 1.013), (1272.2, 0.940), (1273.9, 1.040), (1274.9, 0.976),
               (1276.2, 1.031), (1278.2, 0.940), (1279.5, 1.086), (1280.0, 1.095)]

stacks = [
    [aper_5_55, aper_55_6, aper_6_7, aper_7_10, aper_10_20],
    [ann35_5_55, ann35_55_6, ann35_6_7, ann35_7_10, ann35_10_20],
    [ann75_5_55, ann75_55_6, ann75_6_7, ann75_7_10, ann75_10_20],
]
ylims = [(0.0, 6.32), (0.52, 6.14), (0.45, 6.07)]
header_x = [0.1624, None, None]  # None -> centred over the panel

fig, axes = plt.subplots(1, 3, figsize=(17.7, 8.29), dpi=200)
plt.subplots_adjust(left=0.0206, right=0.988, top=0.8884, bottom=0.0579, wspace=0.106)

for k, ax in enumerate(axes):
    # each SNR bin is shifted up by one unit so the spectra stack
    for i, spec in enumerate(stacks[k]):
        wave, flux = np.array(spec).T
        ax.plot(wave, flux + i, color=f"C{i}", lw=3.6, label=snr_labels[i])
    ax.axvline(LYA, color="grey", ls="--", lw=2.4, dashes=(2.6, 1.7), zorder=5)
    ax.set_xlim(1160, 1280)
    ax.set_ylim(*ylims[k])
    ax.set_xticks(xticks)
    ax.set_yticks([])
    ax.tick_params(axis="x", direction="in", labelsize=11)
    ax.set_xlabel("Rest Wavelength (Å)", fontsize=11)
    ax.set_title(panel_titles[k], fontsize=15)
    pos = ax.get_position()
    hx = header_x[k] if header_x[k] is not None else (pos.x0 + pos.x1) / 2
    fig.text(hx, 0.9554, column_headers[k], fontsize=32,
             family="Liberation Serif", ha="center", va="baseline")

axes[0].legend(loc="upper left", fontsize=10, labelspacing=0.65)

fig.savefig("out.png", dpi=200)
